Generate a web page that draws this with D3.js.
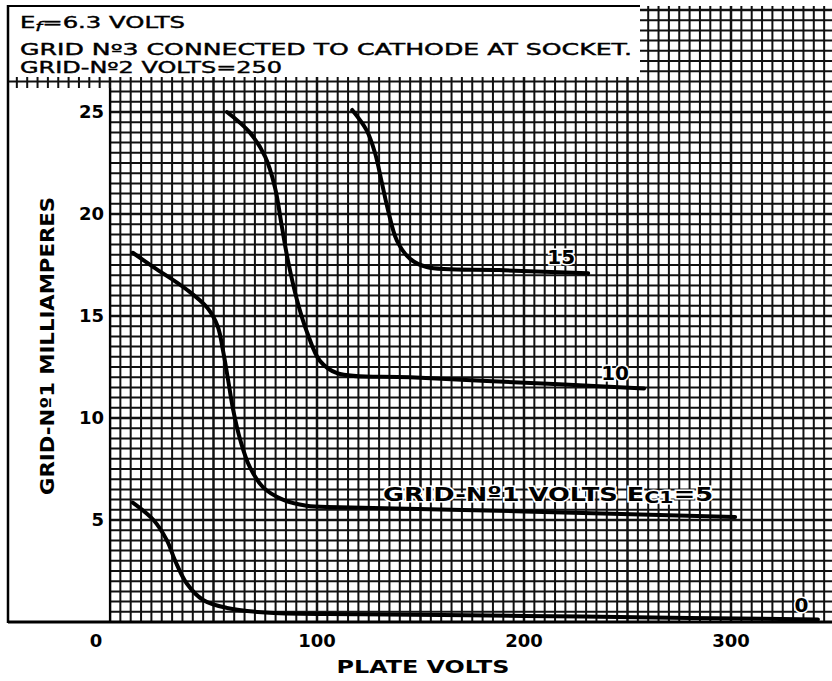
<!DOCTYPE html>
<html>
<head>
<meta charset="utf-8">
<script src="https://cdn.jsdelivr.net/npm/d3@7"></script>
<style>
  body { margin: 0; background: #fff; }
  svg { display: block; }
  text { font-family: "DejaVu Sans", sans-serif; fill: #000; }
</style>
</head>
<body>
<svg class="chart" width="832" height="681"></svg>
<script>
// plate volts vs grid-1 milliamperes, one curve per grid-1 bias
var ec0 = [[11, 5.85], [21, 5.0], [27.5, 4.0], [31.5, 3.0], [37, 1.9], [45, 1.08], [56.5, 0.69], [77, 0.45], [121, 0.38], [200, 0.3], [280, 0.2], [342, 0.12]];
var ec5 = [[11, 18.1], [21, 17.4], [37, 16.3], [47, 15.4], [52, 14.5], [54.6, 13.3], [57, 11.9], [59.5, 10.4], [63, 8.9], [67.5, 7.6], [74, 6.6], [83.5, 6.0], [95, 5.7], [111, 5.63], [200, 5.42], [302, 5.15]];
var ec10 = [[56.5, 25.0], [67.5, 24.0], [75, 22.8], [79.7, 21.3], [83, 19.4], [86, 17.7], [90.3, 15.8], [95.2, 14.2], [101.4, 12.8], [109.7, 12.2], [145, 12.0], [217, 11.65], [258, 11.45]];
var ec15 = [[117, 25.1], [124, 24.1], [128, 23.0], [131.4, 21.5], [134.3, 20.2], [138.6, 18.7], [145, 17.8], [153, 17.4], [188, 17.25], [231, 17.1]];

var xTicks = [0, 100, 200, 300];
var yTicks = [5, 10, 15, 20, 25];

var header = ["=6.3 VOLTS", "GRID N\u00BA3 CONNECTED TO CATHODE AT SOCKET.", "GRID-N\u00BA2 VOLTS=250"];
var curveNames = ["15", "10", "0"];
var curveNameAt = [[218, 17.9], [244, 12.2], [334, 0.85]];

var svg = d3.select(".chart");
var W = 832, H = 681;

// scales measured off the paper: 0 V at x=110, 0 mA at y=622
var xScale = d3.scaleLinear().domain([0, 100]).range([110, 317]);
var yScale = d3.scaleLinear().domain([0, 25]).range([622, 112]);

var paper = { left: 8, top: 6, right: W, bottom: 622 };

// graph paper
var grid = svg.append("g").attr("class", "grid");

var vLines = d3.range(-45, 351, 5).filter(function (v) {
    var x = xScale(v);
    return x > paper.left && x <= paper.right;
});
var hLines = d3.range(0.5, 31, 0.5).filter(function (i) {
    return yScale(i) >= paper.top;
});

grid.selectAll(".v").data(vLines).enter()
    .append("line")
    .attr("x1", function (d) { return xScale(d); })
    .attr("x2", function (d) { return xScale(d); })
    .attr("y1", paper.top)
    .attr("y2", paper.bottom)
    .attr("stroke", "#111")
    .attr("stroke-width", function (d) { return d % 50 === 0 ? 2.5 : 2.0; });

grid.selectAll(".h").data(hLines).enter()
    .append("line")
    .attr("x1", paper.left)
    .attr("x2", paper.right)
    .attr("y1", function (d) { return yScale(d); })
    .attr("y2", function (d) { return yScale(d); })
    .attr("stroke", "#111")
    .attr("stroke-width", function (d) { return d % 5 === 0 ? 2.5 : 2.0; });

// white areas pasted over the paper
svg.append("rect")
    .attr("x", paper.left).attr("y", 0)
    .attr("width", 640 - paper.left).attr("height", 77)
    .attr("fill", "#fff");
svg.append("rect")
    .attr("x", 0).attr("y", 0)
    .attr("width", W).attr("height", paper.top)
    .attr("fill", "#fff");
svg.append("rect")
    .attr("x", paper.left).attr("y", 88)
    .attr("width", xScale(0) - paper.left).attr("height", paper.bottom - 88)
    .attr("fill", "#fff");

// frame
svg.append("line")
    .attr("x1", paper.left).attr("x2", paper.left)
    .attr("y1", paper.top - 1).attr("y2", paper.bottom + 1)
    .attr("stroke", "#000").attr("stroke-width", 2.5);
svg.append("line")
    .attr("x1", paper.left).attr("x2", 640)
    .attr("y1", paper.top).attr("y2", paper.top)
    .attr("stroke", "#000").attr("stroke-width", 2);
svg.append("line")
    .attr("x1", paper.left).attr("x2", W)
    .attr("y1", paper.bottom).attr("y2", paper.bottom)
    .attr("stroke", "#000").attr("stroke-width", 3);
svg.append("line")
    .attr("x1", xScale(0)).attr("x2", xScale(0))
    .attr("y1", 88).attr("y2", paper.bottom)
    .attr("stroke", "#000").attr("stroke-width", 2.2);

// header lettering
var head = svg.append("g").attr("font-size", 15).attr("stroke", "#000").attr("stroke-width", 0.4);
var h1 = head.append("text").attr("x", 20).attr("y", 28)
    .attr("textLength", 165).attr("lengthAdjust", "spacingAndGlyphs");
h1.append("tspan").text("E");
h1.append("tspan").attr("font-size", 12).attr("font-style", "italic").attr("dy", 3).text("f");
h1.append("tspan").attr("dy", -3).text(header[0]);
head.append("text").attr("x", 20).attr("y", 55)
    .attr("textLength", 612).attr("lengthAdjust", "spacingAndGlyphs")
    .text(header[1]);
head.append("text").attr("x", 20).attr("y", 73)
    .attr("textLength", 262).attr("lengthAdjust", "spacingAndGlyphs")
    .text(header[2]);

// tick labels
svg.append("g").selectAll("text")
    .data(yTicks).enter()
    .append("text")
    .attr("x", 104)
    .attr("y", function (d) { return yScale(d); })
    .attr("dy", "0.36em")
    .attr("text-anchor", "end")
    .attr("font-size", 18)
    .attr("font-weight", "bold")
    .text(function (d) { return d; });

svg.append("g").selectAll("text")
    .data(xTicks).enter()
    .append("text")
    .attr("x", function (d) { return d === 0 ? xScale(d) - 14 : xScale(d); })
    .attr("y", 647)
    .attr("text-anchor", "middle")
    .attr("font-size", 18)
    .attr("font-weight", "bold")
    .text(function (d) { return d; });

// axis titles
svg.append("text")
    .attr("x", 423).attr("y", 673)
    .attr("text-anchor", "middle")
    .attr("font-size", 18)
    .attr("font-weight", "bold")
    .attr("textLength", 173).attr("lengthAdjust", "spacingAndGlyphs")
    .text("PLATE VOLTS");

svg.append("text")
    .attr("transform", "translate(54,346) rotate(-90)")
    .attr("text-anchor", "middle")
    .attr("font-size", 19)
    .attr("font-weight", "bold")
    .attr("textLength", 298).attr("lengthAdjust", "spacingAndGlyphs")
    .text("GRID-N\u00BA1 MILLIAMPERES");

// curves
var line = d3.line()
    .x(function (d) { return xScale(d[0]); })
    .y(function (d) { return yScale(d[1]); })
    .curve(d3.curveCatmullRom.alpha(0.5));

svg.append("g").selectAll("path")
    .data([ec0, ec5, ec10, ec15]).enter()
    .append("path")
    .attr("d", line)
    .attr("fill", "none")
    .attr("stroke", "#000")
    .attr("stroke-width", 4)
    .attr("stroke-linecap", "round");

// curve labels
svg.append("g").selectAll("text")
    .data(curveNames).enter()
    .append("text")
    .attr("x", function (d, i) { return xScale(curveNameAt[i][0]); })
    .attr("y", function (d, i) { return yScale(curveNameAt[i][1]); })
    .attr("dy", "0.36em")
    .attr("text-anchor", "middle")
    .attr("font-size", 20)
    .attr("font-weight", "bold")
    .attr("stroke", "#fff").attr("stroke-width", 3)
    .attr("paint-order", "stroke")
    .text(function (d) { return d; });

var ecLabel = svg.append("text")
    .attr("x", xScale(211.6))
    .attr("y", yScale(6.27))
    .attr("dy", "0.36em")
    .attr("text-anchor", "middle")
    .attr("font-size", 20)
    .attr("font-weight", "bold")
    .attr("stroke", "#fff").attr("stroke-width", 3)
    .attr("paint-order", "stroke")
    .attr("textLength", 330).attr("lengthAdjust", "spacingAndGlyphs");
ecLabel.append("tspan").text("GRID-N\u00BA1 VOLTS E");
ecLabel.append("tspan").attr("font-size", 16).attr("dy", 2).text("C1");
ecLabel.append("tspan").attr("dy", -2).text("=5");
</script>
</body>
</html>
